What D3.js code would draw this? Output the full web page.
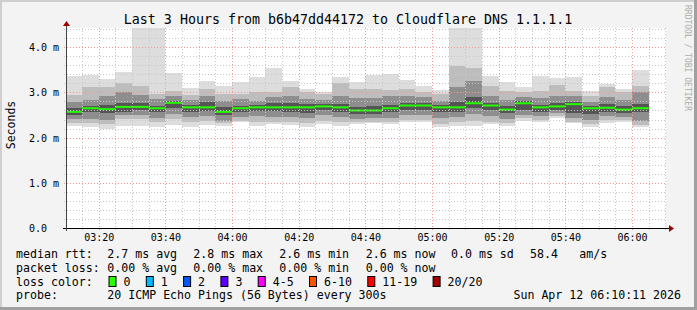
<!DOCTYPE html>
<html>
<head>
<meta charset="utf-8">
<script src="https://cdn.jsdelivr.net/npm/d3@7"></script>
<style>
  html, body { margin: 0; padding: 0; background: #f3f3f3; }
  svg { display: block; }
  text { font-family: "DejaVu Sans Mono", monospace; fill: #000; }
</style>
</head>
<body>
<div class="chart"></div>
<script>
// 5 minute slots, one smoke bar each
const slots = ['03:10','03:15','03:20','03:25','03:30','03:35','03:40','03:45','03:50','03:55',
  '04:00','04:05','04:10','04:15','04:20','04:25','04:30','04:35','04:40','04:45',
  '04:50','04:55','05:00','05:05','05:10','05:15','05:20','05:25','05:30','05:35',
  '05:40','05:45','05:50','05:55','06:00'];

// ping spread in ms (highest ping .. lowest ping)
const pingMax = [3.37,3.39,3.30,3.46,4.80,4.80,3.44,3.09,3.26,3.15,3.22,3.33,3.55,3.26,3.08,3.02,3.35,3.24,3.39,3.41,
  3.28,3.15,3.06,4.80,4.80,3.36,3.24,3.11,3.36,3.31,3.33,3.04,3.19,3.08,3.50];
const pingHigh = [2.94,3.13,3.13,3.21,3.15,2.96,3.04,2.94,3.08,2.96,2.96,3.00,3.00,3.13,3.00,2.96,3.21,3.08,3.08,3.06,
  3.08,3.02,2.96,3.58,3.55,3.15,3.04,3.02,3.04,3.16,3.04,2.91,3.13,3.00,3.15];
const pingUpper = [2.79,2.84,2.93,3.00,2.94,2.85,2.91,2.84,2.91,2.82,2.85,2.82,2.89,2.91,2.85,2.84,2.93,2.87,2.87,2.91,
  2.91,2.89,2.82,3.11,3.26,2.93,2.84,2.89,2.87,2.91,2.93,2.79,2.89,2.84,3.00];
const pingCoreHigh = [2.65,2.71,2.72,2.77,2.77,2.71,2.82,2.72,2.79,2.67,2.71,2.72,2.77,2.77,2.74,2.74,2.74,2.67,2.71,2.72,
  2.77,2.77,2.72,2.78,2.89,2.77,2.69,2.82,2.72,2.77,2.79,2.71,2.74,2.69,2.74];
const medianRtt = [2.57,2.65,2.63,2.68,2.68,2.65,2.77,2.67,2.67,2.57,2.65,2.67,2.67,2.67,2.67,2.69,2.67,2.60,2.60,2.65,
  2.71,2.71,2.67,2.67,2.76,2.71,2.62,2.76,2.67,2.69,2.74,2.65,2.66,2.62,2.65];
const pingCoreLow = [2.50,2.57,2.54,2.57,2.60,2.56,2.65,2.57,2.59,2.49,2.56,2.59,2.59,2.57,2.54,2.60,2.57,2.52,2.52,2.56,
  2.62,2.62,2.57,2.57,2.65,2.60,2.54,2.62,2.57,2.62,2.54,2.52,2.57,2.54,2.56];
const pingLower = [2.41,2.41,2.40,2.49,2.50,2.43,2.52,2.45,2.47,2.37,2.45,2.47,2.45,2.45,2.43,2.49,2.45,2.41,2.43,2.43,
  2.50,2.50,2.43,2.45,2.52,2.47,2.41,2.50,2.47,2.54,2.43,2.40,2.47,2.45,2.37];
const pingLow = [2.32,2.32,2.30,2.41,2.41,2.34,2.41,2.34,2.37,2.32,2.37,2.35,2.34,2.35,2.32,2.37,2.34,2.34,2.35,2.34,
  2.40,2.39,2.30,2.34,2.37,2.35,2.32,2.43,2.40,2.47,2.35,2.30,2.40,2.39,2.28];
const pingMin = [2.26,2.23,2.20,2.26,2.26,2.23,2.28,2.24,2.28,2.26,2.34,2.26,2.29,2.28,2.24,2.30,2.26,2.30,2.32,2.29,
  2.34,2.34,2.23,2.26,2.25,2.29,2.26,2.37,2.35,2.43,2.32,2.23,2.32,2.35,2.23];

const timeTicks = ['03:20','03:40','04:00','04:20','04:40','05:00','05:20','05:40','06:00'];
const yTicks = [0, 1, 2, 3, 4];
const yTickLabels = ['0.0', '1.0 m', '2.0 m', '3.0 m', '4.0 m'];

const rttStats = ['2.7 ms avg', '2.8 ms max', '2.6 ms min', '2.6 ms now', '0.0 ms sd', '58.4', 'am/s'];
const lossStats = ['0.00 % avg', '0.00 % max', '0.00 % min', '0.00 % now'];
const lossLabels = ['0', '1', '2', '3', '4-5', '6-10', '11-19', '20/20'];
const lossColors = ['#26ff00', '#00b8ff', '#0059ff', '#5e00ff', '#ff00ff', '#ff5500', '#ff0000', '#a10000'];

const svgWidth = 697, svgHeight = 310;
const plotLeft = 66, plotRight = 666, plotTop = 28, plotBottom = 228;

const svg = d3.select('.chart')
  .append('svg')
  .attr('width', svgWidth)
  .attr('height', svgHeight);

// background + 3d-ish frame
svg.append('rect').attr('width', svgWidth).attr('height', svgHeight).attr('fill', '#f3f3f3');
svg.append('path').attr('d', `M0,${svgHeight} V0 H${svgWidth}`).attr('fill', 'none')
  .attr('stroke', '#cfcfcf').attr('stroke-width', 4);
svg.append('path').attr('d', `M0,${svgHeight} H${svgWidth} V0`).attr('fill', 'none')
  .attr('stroke', '#a0a0a0').attr('stroke-width', 6);

const at = t => {
  const [h, m, s] = t.split(':').map(Number);
  return new Date(Date.UTC(2026, 3, 12, h, m, s || 0));
};

const xScale = d3.scaleUtc()
  .domain([at('03:10:11'), at('06:10:11')])
  .range([plotLeft, plotRight]);

const yScale = d3.scaleLinear()
  .domain([0, 4.425])
  .range([plotBottom, plotTop]);

// canvas
svg.append('rect')
  .attr('x', plotLeft).attr('y', plotTop)
  .attr('width', plotRight - plotLeft).attr('height', plotBottom - plotTop)
  .attr('fill', '#ffffff');

svg.append('clipPath').attr('id', 'plot')
  .append('rect')
  .attr('x', plotLeft).attr('y', plotTop)
  .attr('width', plotRight - plotLeft).attr('height', plotBottom - plotTop);

const plot = svg.append('g').attr('clip-path', 'url(#plot)');

const bars = slots.map((s, i) => ({
  x0: xScale(at(s)),
  x1: xScale(new Date(at(s).getTime() + 5 * 60 * 1000)),
  i
}));

const layers = [
  [pingMin, pingMax, '#dddddd'],
  [pingLow, pingHigh, '#bdbdbd'],
  [pingLower, pingUpper, '#8e8e8e'],
  [pingCoreLow, pingCoreHigh, '#555555']
];

layers.forEach(([lo, hi, col]) => {
  plot.append('g')
    .selectAll('rect')
    .data(bars)
    .join('rect')
    .attr('x', d => d.x0)
    .attr('width', d => d.x1 - d.x0)
    .attr('y', d => yScale(hi[d.i]))
    .attr('height', d => yScale(lo[d.i]) - yScale(hi[d.i]))
    .attr('fill', col)
    .attr('shape-rendering', 'crispEdges');
});

// grid (on top of the smoke, like rrdtool)
const px = v => Math.round(v) + 0.5;
const minorY = d3.range(0, 4.41, 0.2).filter(v => Math.abs(v - Math.round(v)) > 0.01);
const minorX = d3.utcMinute.every(5).range(at('03:10:11'), at('06:10:12'))
  .filter(d => d.getUTCMinutes() % 20 !== 0);

const grid = svg.append('g').attr('fill', 'none').attr('stroke-width', 1);

grid.selectAll('.hminor').data(minorY).join('line')
  .attr('x1', plotLeft - 2).attr('x2', plotRight)
  .attr('y1', d => px(yScale(d))).attr('y2', d => px(yScale(d)))
  .attr('stroke', '#c8c8c8').attr('stroke-dasharray', '1,2');

grid.selectAll('.vminor').data(minorX).join('line')
  .attr('y1', plotTop).attr('y2', plotBottom + 2)
  .attr('x1', d => px(xScale(d))).attr('x2', d => px(xScale(d)))
  .attr('stroke', '#c8c8c8').attr('stroke-dasharray', '1,2');

grid.selectAll('.hmajor').data(yTicks.slice(1)).join('line')
  .attr('x1', plotLeft - 2).attr('x2', plotRight)
  .attr('y1', d => px(yScale(d))).attr('y2', d => px(yScale(d)))
  .attr('stroke', '#f29a9a').attr('stroke-dasharray', '1,2');

grid.selectAll('.vmajor').data(timeTicks).join('line')
  .attr('y1', plotTop).attr('y2', plotBottom + 3)
  .attr('x1', d => px(xScale(at(d)))).attr('x2', d => px(xScale(at(d))))
  .attr('stroke', '#f29a9a').attr('stroke-dasharray', '1,2');

// median rtt, coloured by loss (all 0 here)
plot.append('g')
  .selectAll('line')
  .data(bars)
  .join('line')
  .attr('x1', d => d.x0)
  .attr('x2', d => d.x1)
  .attr('y1', d => yScale(medianRtt[d.i]))
  .attr('y2', d => yScale(medianRtt[d.i]))
  .attr('stroke', lossColors[0])
  .attr('stroke-width', 2);

// axes
svg.append('line')
  .attr('x1', plotLeft - 3).attr('x2', plotRight + 4)
  .attr('y1', plotBottom + 0.5).attr('y2', plotBottom + 0.5)
  .attr('stroke', '#000');
svg.append('line')
  .attr('x1', plotLeft + 0.5).attr('x2', plotLeft + 0.5)
  .attr('y1', plotBottom + 3).attr('y2', plotTop - 3)
  .attr('stroke', '#444');
svg.append('path')
  .attr('d', `M${plotRight + 3},${plotBottom - 3} L${plotRight + 8},${plotBottom + 0.5} L${plotRight + 3},${plotBottom + 4} Z`)
  .attr('fill', '#a00000');
svg.append('path')
  .attr('d', `M${plotLeft - 3},${plotTop - 2} L${plotLeft + 0.5},${plotTop - 7} L${plotLeft + 4},${plotTop - 2} Z`)
  .attr('fill', '#a00000');

// tick labels
svg.append('g')
  .selectAll('text')
  .data(timeTicks)
  .join('text')
  .attr('x', d => xScale(at(d)) + 0.5)
  .attr('y', 241)
  .attr('text-anchor', 'middle')
  .style('font-size', '10px')
  .text(d => d);

svg.append('g')
  .selectAll('text')
  .data(yTicks)
  .join('text')
  .attr('x', 29)
  .attr('y', d => Math.round(yScale(d)) + 4)
  .style('font-size', '10px')
  .text((d, i) => yTickLabels[i]);

// titles
svg.append('text')
  .attr('x', 348).attr('y', 24)
  .attr('text-anchor', 'middle')
  .style('font-size', '13.3px')
  .text('Last 3 Hours from b6b47dd44172 to Cloudflare DNS 1.1.1.1');

svg.append('text')
  .attr('transform', 'translate(15,125) rotate(-90)')
  .attr('text-anchor', 'middle')
  .style('font-size', '11.5px')
  .text('Seconds');

svg.append('text')
  .attr('transform', 'translate(685,5) rotate(90)')
  .style('font-size', '8px')
  .style('fill', '#ababab')
  .text('RRDTOOL / TOBI OETIKER');

// legend
const rowY = [258.3, 271.9, 285.5, 299.2];
const labelX = 16;

const legend = svg.append('g').style('font-size', '11.6px');

legend.selectAll('.lbl')
  .data(['median rtt:', 'packet loss:', 'loss color:', 'probe:'])
  .join('text')
  .attr('x', labelX)
  .attr('y', (d, i) => rowY[i])
  .text(d => d);

const statX = [107.3, 193.3, 279.3, 365.7, 451, 530, 579.3];
legend.append('g').selectAll('text').data(rttStats).join('text')
  .attr('x', (d, i) => statX[i]).attr('y', rowY[0]).text(d => d);
legend.append('g').selectAll('text').data(lossStats).join('text')
  .attr('x', (d, i) => statX[i]).attr('y', rowY[1]).text(d => d);

let bx = 108.5;
lossLabels.forEach((lbl, i) => {
  legend.append('rect')
    .attr('x', bx + 0.5).attr('y', 276.5)
    .attr('width', 7).attr('height', 10)
    .attr('fill', lossColors[i])
    .attr('stroke', '#000');
  legend.append('text')
    .attr('x', bx + 15).attr('y', rowY[2])
    .text(lbl);
  bx += 7 * lbl.length + 30.3;
});

legend.append('text')
  .attr('x', 107.3).attr('y', rowY[3])
  .text('20 ICMP Echo Pings (56 Bytes) every 300s');
legend.append('text')
  .attr('x', 681).attr('y', rowY[3])
  .attr('text-anchor', 'end')
  .text('Sun Apr 12 06:10:11 2026');
</script>
</body>
</html>
